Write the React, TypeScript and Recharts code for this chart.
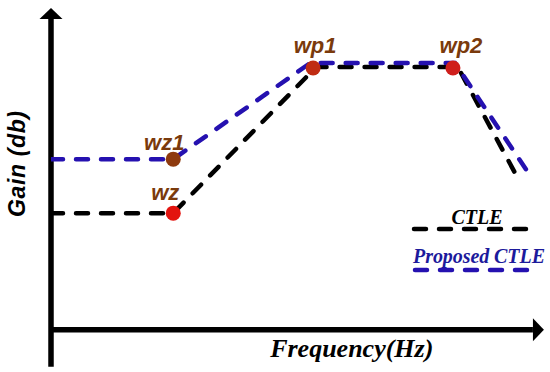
import {
  LineChart,
  Line,
  XAxis,
  YAxis,
  Scatter,
  ReferenceLine,
  Legend,
} from "recharts";

// schematic units: frequency position 0..100, gain 0..100
const ctleFreq = [0, 25, 54.2, 83.2, 95.9];
const ctleGain = [36.9, 36.9, 83.4, 83.4, 46.8];

const proposedFreq = [0, 25, 53, 82.6, 97.5];
const proposedGain = [54.1, 54.1, 84.7, 84.7, 50];

const pointNames = ["wz", "wz1", "wp1", "wp2"];
const pointFreq = [25, 25, 53.6, 82.2];
const pointGain = [36.9, 54.1, 83.1, 83.1];
const pointColors = ["#e3140f", "#8e3a0e", "#c02c12", "#cf1f1c"];
const pointLabelDx = [-8, -9, 2, 8];
const pointLabelDy = [-13, -9, -15, -15];

const ctleData = ctleFreq.map((f, i) => ({ freq: f, gain: ctleGain[i] }));
const proposedData = proposedFreq.map((f, i) => ({ freq: f, gain: proposedGain[i] }));
const pointData = pointNames.map((n, i) => ({
  freq: pointFreq[i],
  gain: pointGain[i],
  name: n,
  color: pointColors[i],
  dx: pointLabelDx[i],
  dy: pointLabelDy[i],
}));

const BLACK = "#000000";
const BLUE = "#2511b0";
const LABEL_BROWN = "#7a3a0c";

const renderPoint = (props: any) => {
  const { cx, cy, payload } = props;
  return (
    <g>
      <circle cx={cx} cy={cy} r={7.5} fill={payload.color} />
      <text
        x={cx + payload.dx}
        y={cy + payload.dy}
        textAnchor="middle"
        fontFamily="'Liberation Sans', Arial, sans-serif"
        fontWeight="bold"
        fontStyle="italic"
        fontSize={22}
        fill={LABEL_BROWN}
      >
        {payload.name}
      </text>
    </g>
  );
};

// axis line with an arrowhead at the (x2, y2) end
const arrowAxis = (props: any) => {
  const { x1, y1, x2, y2 } = props;
  const vertical = Math.abs(x1 - x2) < 0.5;
  const head = 11;
  const half = 11.5;
  const dir = vertical ? Math.sign(y2 - y1) : Math.sign(x2 - x1);
  const baseX = vertical ? x2 : x2 - dir * head;
  const baseY = vertical ? y2 - dir * head : y2;
  const pts = vertical
    ? `${x2},${y2} ${baseX - half},${baseY} ${baseX + half},${baseY}`
    : `${x2},${y2} ${baseX},${baseY - half} ${baseX},${baseY + half}`;
  return (
    <g>
      <line x1={x1} y1={y1} x2={baseX} y2={baseY} stroke={BLACK} strokeWidth={5.5} />
      <polygon points={pts} fill={BLACK} />
    </g>
  );
};

const renderLegend = () => (
  <svg width={150} height={80} style={{ overflow: "visible", display: "block" }}>
    <text
      x={77}
      y={24}
      textAnchor="middle"
      fontFamily="'Liberation Serif', 'Times New Roman', serif"
      fontWeight="bold"
      fontStyle="italic"
      fontSize={20}
      fill={BLACK}
    >
      CTLE
    </text>
    <line x1={14} y1={29} x2={137} y2={29} stroke={BLACK} strokeWidth={4.5} strokeDasharray="12 13" strokeLinecap="round" />
    <text
      x={13}
      y={63}
      fontFamily="'Liberation Serif', 'Times New Roman', serif"
      fontWeight="bold"
      fontStyle="italic"
      fontSize={20}
      textLength={132}
      fill="#1c1a9c"
    >
      Proposed CTLE
    </text>
    <line x1={15} y1={70} x2={140} y2={70} stroke={BLUE} strokeWidth={4.5} strokeDasharray="12 13" strokeLinecap="round" />
  </svg>
);

export default function App() {
  return (
    <div style={{ position: "absolute", left: 0, top: 0, width: 550, height: 372, background: "#fff" }}>
      <LineChart width={550} height={372} margin={{ top: 15, right: 10, left: 0, bottom: 0 }}>
        <XAxis
          dataKey="freq"
          type="number"
          domain={[0, 100]}
          allowDataOverflow
          height={43}
          axisLine={false}
          tickLine={false}
          tick={false}
          label={{
            content: (p: any) => {
              const vb = p.viewBox;
              return (
                <text
                  x={vb.x + vb.width * 0.615}
                  y={vb.y + 28}
                  textAnchor="middle"
                  fontFamily="'Liberation Serif', 'Times New Roman', serif"
                  fontWeight="bold"
                  fontStyle="italic"
                  fontSize={26}
                  fill={BLACK}
                >
                  Frequency(Hz)
                </text>
              );
            },
          }}
        />
        <YAxis
          dataKey="gain"
          type="number"
          domain={[0, 100]}
          allowDataOverflow
          width={51}
          axisLine={false}
          tickLine={false}
          tick={false}
          label={{
            content: (p: any) => {
              const vb = p.viewBox;
              const cx = vb.x + 17;
              const cy = vb.y + vb.height / 2 - 8;
              return (
                <text
                  x={cx}
                  y={cy}
                  transform={`rotate(-90 ${cx} ${cy})`}
                  textAnchor="middle"
                  dominantBaseline="central"
                  fontFamily="'Liberation Sans', Arial, sans-serif"
                  fontWeight="bold"
                  fontStyle="italic"
                  fontSize={23}
                  textLength={106}
                  fill={BLACK}
                >
                  Gain (db)
                </text>
              );
            },
          }}
        />
        <ReferenceLine
          segment={[{ x: 0, y: -12 }, { x: 0, y: 102.2 }]}
          ifOverflow="visible"
          shape={arrowAxis}
        />
        <ReferenceLine
          segment={[{ x: -0.2, y: -0.2 }, { x: 100.8, y: -0.2 }]}
          ifOverflow="visible"
          shape={arrowAxis}
        />
        <Line
          name="CTLE"
          data={ctleData}
          dataKey="gain"
          type="linear"
          stroke={BLACK}
          strokeWidth={4.5}
          strokeDasharray="12 13"
          strokeLinecap="round"
          dot={false}
          isAnimationActive={false}
        />
        <Line
          name="Proposed CTLE"
          data={proposedData}
          dataKey="gain"
          type="linear"
          stroke={BLUE}
          strokeWidth={4.5}
          strokeDasharray="12 13"
          strokeLinecap="round"
          dot={false}
          isAnimationActive={false}
        />
        <Scatter
          data={pointData}
          dataKey="gain"
          legendType="none"
          shape={renderPoint}
          isAnimationActive={false}
        />
        <Legend
          layout="horizontal"
          verticalAlign="middle"
          align="center"
          content={renderLegend}
          wrapperStyle={{ position: "absolute", left: 400, top: 200, width: 150, height: 80 }}
        />
      </LineChart>
    </div>
  );
}
